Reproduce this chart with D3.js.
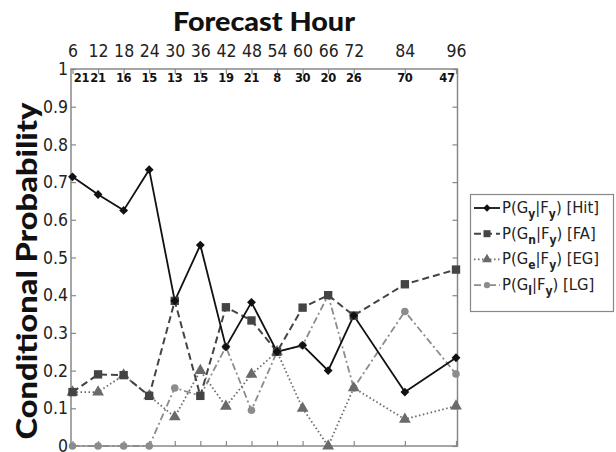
<!DOCTYPE html>
<html><head><meta charset="utf-8">
<script src="https://cdn.jsdelivr.net/npm/d3@7"></script>
<style>body{margin:0;background:#fff}svg{display:block}</style>
</head><body>
<script>
const hours = [6,12,18,24,30,36,42,48,54,60,66,72,84,96];
const counts = [21,21,16,15,13,15,19,21,8,30,20,26,70,47];
const hit = [0.714,0.667,0.625,0.733,0.385,0.533,0.263,0.381,0.25,0.267,0.2,0.346,0.143,0.234];
const fa  = [0.143,0.190,0.188,0.133,0.385,0.133,0.368,0.333,0.25,0.367,0.4,0.346,0.429,0.468];
const eg  = [0.143,0.143,0.188,0.133,0.077,0.2,0.105,0.19,0.25,0.1,0.0,0.154,0.071,0.106];
const lg  = [0,0,0,0,0.154,0.133,0.263,0.095,0.25,0.267,0.4,0.154,0.357,0.191];
const yTicks = [0,0.1,0.2,0.3,0.4,0.5,0.6,0.7,0.8,0.9,1];
const seriesNames = ["Hit","FA","EG","LG"];
const subs = ["y","n","e","l"];

const W=616,H=452;
const svg=d3.select("body").append("svg").attr("width",W).attr("height",H);
const x=d3.scaleLinear().domain([6,96]).range([72.5,456]);
const y=d3.scaleLinear().domain([0,1]).range([446,69]);
const font="'DejaVu Sans Condensed','DejaVu Sans',sans-serif";

// frame
svg.append("rect").attr("x",71).attr("y",69).attr("width",386.5).attr("height",377)
  .attr("fill","none").attr("stroke","#888").attr("stroke-width",1.5);

// axes
const axTop=d3.axisTop(x).tickValues(hours).tickSize(-5).tickPadding(12).tickFormat(d3.format("d"));
const gT=svg.append("g").attr("transform","translate(0,69)").call(axTop);
const axBot=d3.axisBottom(x).tickValues(hours).tickSize(-5).tickFormat("");
const gB=svg.append("g").attr("transform","translate(0,446)").call(axBot);
const axL=d3.axisLeft(y).tickValues(yTicks).tickSize(-5).tickPadding(3).tickFormat(d=>d===0||d===1?d3.format("d")(d):d3.format(".1f")(d));
const gL=svg.append("g").attr("transform","translate(71,0)").call(axL);
const axR=d3.axisRight(y).tickValues(yTicks).tickSize(-5).tickFormat("");
const gR=svg.append("g").attr("transform","translate(457.5,0)").call(axR);
[gT,gB,gL,gR].forEach(g=>{g.select(".domain").remove();g.selectAll("line").attr("stroke","#888").attr("stroke-width",1.2);
  g.selectAll("text").attr("font-family",font).attr("font-size",17.5).attr("fill","#222");});

// counts
svg.append("g").selectAll("text").data(hours).join("text")
  .attr("x",(d,i)=>x(d)+(i===0?9:i===hours.length-1?-9:0)).attr("y",82).attr("text-anchor","middle")
  .attr("font-family","'DejaVu Sans',sans-serif").attr("font-weight","bold").attr("font-size",11.5)
  .attr("letter-spacing",-0.3).attr("fill","#111")
  .text((d,i)=>counts[i]);

// titles
svg.append("text").attr("x",264).attr("y",31).attr("text-anchor","middle")
  .attr("font-family","Lato,'Open Sans',sans-serif").attr("font-weight","900").attr("font-size",26)
  .attr("textLength",182).attr("lengthAdjust","spacingAndGlyphs").attr("fill","#111").text("Forecast Hour");
svg.append("text").attr("transform","translate(37,271) rotate(-90)").attr("text-anchor","middle")
  .attr("font-family","Lato,'Open Sans',sans-serif").attr("font-weight","900").attr("font-size",28)
  .attr("textLength",337).attr("lengthAdjust","spacingAndGlyphs").attr("fill","#111").text("Conditional Probability");

// series
const styles=[
 {vals:hit,color:"#111",dash:null,sym:d3.symbolDiamond2,size:50,w:1.8},
 {vals:fa,color:"#444",dash:"7,4",sym:d3.symbolSquare,size:70,w:2},
 {vals:eg,color:"#6a6a6a",dash:"1.5,2.5",sym:d3.symbolTriangle,size:60,w:1.8},
 {vals:lg,color:"#8c8c8c",dash:"7,3,2,3",sym:d3.symbolCircle,size:45,w:1.8}
];
const line=d3.line().x((d,i)=>x(hours[i])).y(d=>y(d));
const order=[3,2,1,0];
order.forEach(k=>{
  const s=styles[k];
  svg.append("path").datum(s.vals).attr("d",line).attr("fill","none").attr("stroke",s.color)
    .attr("stroke-width",s.w).attr("stroke-dasharray",s.dash);
});
order.forEach(k=>{
  const s=styles[k];
  svg.append("g").selectAll("path").data(s.vals).join("path")
    .attr("transform",(d,i)=>`translate(${x(hours[i])},${y(d)})`)
    .attr("d",d3.symbol(s.sym,s.size)).attr("fill",s.color);
});

// legend
const lgG=svg.append("g");
lgG.append("rect").attr("x",470.5).attr("y",194.5).attr("width",143).attr("height",117)
  .attr("fill","#fff").attr("stroke","#888").attr("stroke-width",1.2);
styles.forEach((s,i)=>{
  const yy=208+i*25.7;
  lgG.append("line").attr("x1",474).attr("x2",500).attr("y1",yy).attr("y2",yy).attr("stroke",s.color)
    .attr("stroke-width",s.w).attr("stroke-dasharray",s.dash);
  lgG.append("path").attr("transform",`translate(487,${yy})`).attr("d",d3.symbol(s.sym,s.size*0.7)).attr("fill",s.color);
  const t=lgG.append("text").attr("x",502).attr("y",yy+5).attr("font-family",font).attr("font-size",16.5).attr("fill","#222");
  t.append("tspan").text("P(G");
  t.append("tspan").attr("dy",5).attr("font-size",12).attr("font-weight","bold").text(subs[i]);
  t.append("tspan").attr("dy",-5).text("|F");
  t.append("tspan").attr("dy",5).attr("font-size",12).attr("font-weight","bold").text("y");
  t.append("tspan").attr("dy",-5).text(i===3?")  [LG]":") ["+seriesNames[i]+"]");
});
</script>
</body></html>
